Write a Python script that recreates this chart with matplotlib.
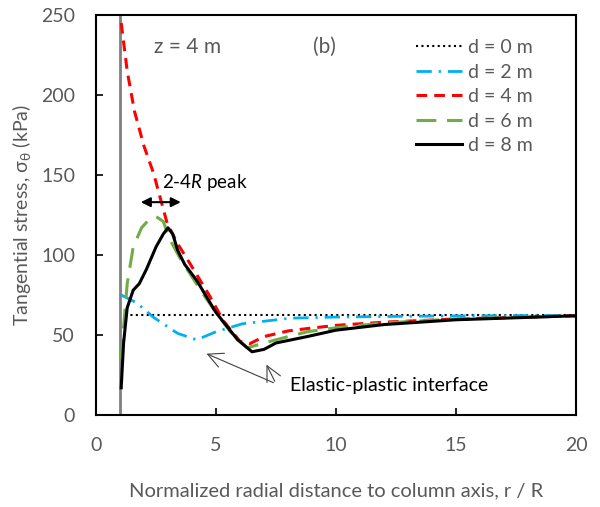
import matplotlib
matplotlib.use("Agg")
import matplotlib.pyplot as plt
import numpy as np

plt.rcParams['font.family'] = ['Lato', 'DejaVu Sans']
plt.rcParams['mathtext.fontset'] = 'custom'
plt.rcParams['mathtext.rm'] = 'Lato'
plt.rcParams['mathtext.it'] = 'Lato:italic'

TXT = '#595959'

# d = 0 m (in-situ)
x_d0 = [1.2, 20]
y_d0 = [62.5, 62.5]

# d = 2 m
x_d2 = [1.05, 1.7, 2.4, 3.4, 4.2, 5.0, 6.1, 8.1, 10, 13, 16, 20]
y_d2 = [75, 70, 61, 51, 47, 52, 57, 60.5, 61.2, 61.7, 62, 62.3]

# d = 4 m
x_d4 = [1.05, 1.3, 1.6, 2.0, 2.4, 2.96, 3.4, 3.9, 4.75, 5.3, 6.0, 6.4, 7.0, 8.0, 8.8, 10, 12, 15, 20]
y_d4 = [245, 215, 190, 168, 151, 120, 107, 95, 74, 59, 46, 44.5, 49, 52.5, 54, 56, 58, 60, 62]

# d = 6 m
x_d6 = [1.05, 1.15, 1.3, 1.55, 1.9, 2.2, 2.5, 2.8, 3.1, 3.5, 3.8, 4.4, 5.0, 5.6, 6.3, 7.5, 8.8, 10, 12, 15, 20]
y_d6 = [35, 55, 82, 105, 117, 122, 124, 121, 109, 98, 91, 77, 64, 52, 42, 47, 52, 54.5, 57.5, 60, 62]

# d = 8 m
x_d8 = [1.05, 1.15, 1.3, 1.55, 1.8, 2.1, 2.5, 2.8, 3.0, 3.2, 3.4, 3.7, 4.2, 5.0, 5.9, 6.5, 7.0, 7.5, 8.8, 10, 12, 15, 20]
y_d8 = [17, 45, 67, 78, 82, 91, 105, 113, 117, 113, 103, 94, 84, 64, 47, 39.5, 41, 45, 49, 53, 56.5, 59.5, 62]

x_ticks = [0, 5, 10, 15, 20]
y_ticks = [0, 50, 100, 150, 200, 250]

fig = plt.figure(figsize=(6.0, 5.07), dpi=100)
ax = fig.add_axes([0.16, 0.1815, 0.80, 0.789])

ax.axvline(1, color='#808080', lw=2, zorder=1)

ax.plot(x_d0, y_d0, color='black', ls=(0, (1, 1.6)), lw=1.5, label='d = 0 m')
ax.plot(x_d2, y_d2, color='#00B0F0', ls=(0, (5.5, 2.5, 0.8, 2.5)), lw=2, label='d = 2 m')
ax.plot(x_d4, y_d4, color='#FF0000', ls=(0, (3.5, 2.3)), lw=2.2, label='d = 4 m')
ax.plot(x_d6, y_d6, color='#70AD47', ls=(0, (6.5, 3.5)), lw=2.2, label='d = 6 m')
ax.plot(x_d8, y_d8, color='black', ls='-', lw=2.2, label='d = 8 m')

ax.set_xlim(0, 20)
ax.set_ylim(0, 250)
ax.set_xticks(x_ticks)
ax.set_yticks(y_ticks)
ax.tick_params(direction='in', length=5, width=1.2, colors='black', labelcolor=TXT,
               labelsize=14)
ax.tick_params(axis='x', pad=16)
ax.tick_params(axis='y', pad=15)
for s in ax.spines.values():
    s.set_linewidth(1.5)

ax.set_xlabel('Normalized radial distance to column axis, r / R', fontsize=14.5, color=TXT, labelpad=20)
ax.set_ylabel(r'Tangential stress, σ$_\mathregular{θ}$ (kPa)', fontsize=14, color=TXT, labelpad=6)

leg = ax.legend(loc='upper left', bbox_to_anchor=(0.667, 0.94), frameon=False, fontsize=14,
                handlelength=2.37, handletextpad=0.3, labelspacing=0.39,
                borderpad=0, borderaxespad=0)
for t in leg.get_texts():
    t.set_color(TXT)

ax.text(2.4, 230, 'z = 4 m', fontsize=15, color=TXT, va='center')
ax.text(9.05, 230, '(b)', fontsize=15, color=TXT, va='center')

ax.text(2.75, 145, r'2-4$\mathit{R}$ peak', fontsize=13.5, color='black', va='center')
ax.annotate('', xy=(1.75, 133), xytext=(3.65, 133),
            arrowprops=dict(arrowstyle='<|-|>', color='black', lw=1.5, mutation_scale=14))

ax.text(8.08, 18.5, 'Elastic-plastic interface', fontsize=14, color='black', va='center')
ax.annotate('', xy=(4.5, 39), xytext=(7.5, 19.5),
            arrowprops=dict(arrowstyle='->,head_length=0.6,head_width=0.3', color='#404040', lw=0.8,
                            mutation_scale=18))
ax.annotate('', xy=(7.05, 33), xytext=(7.5, 19.5),
            arrowprops=dict(arrowstyle='->,head_length=0.6,head_width=0.3', color='#404040', lw=0.8,
                            mutation_scale=18))

fig.savefig('out.png', dpi=100)
